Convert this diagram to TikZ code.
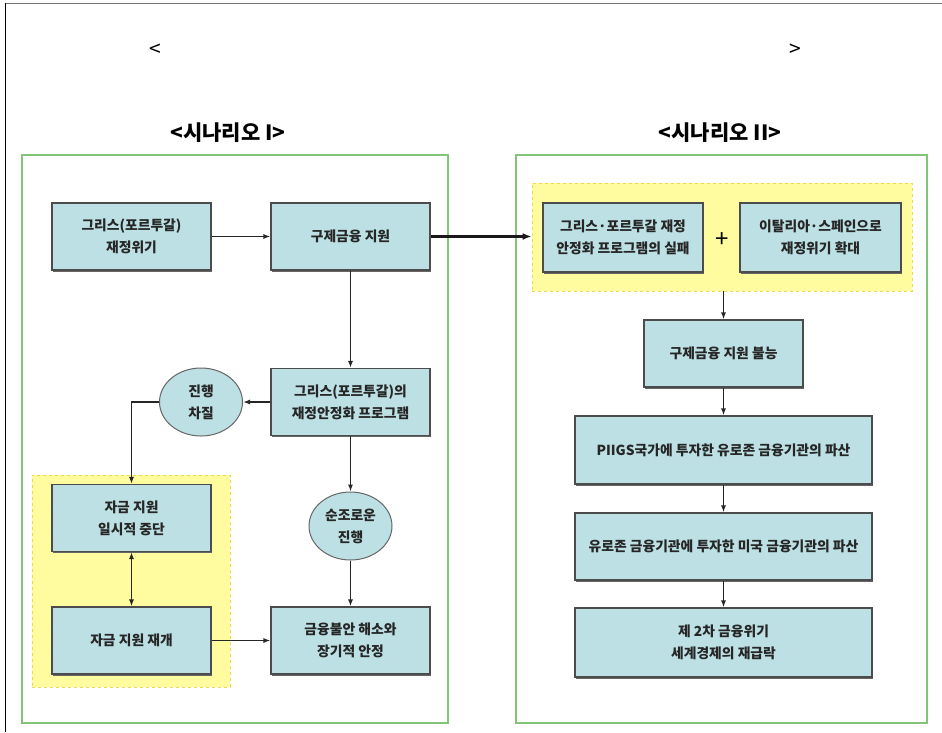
\documentclass[tikz,border=0pt]{standalone}
\usepackage{fontspec}
\setmainfont{Noto Sans CJK KR}
\usetikzlibrary{shapes.geometric,arrows.meta,shadows}
\definecolor{boxblue}{RGB}{188,224,228}
\definecolor{frameg}{RGB}{130,196,120}
\definecolor{hiyellow}{RGB}{255,252,160}
\definecolor{hiedge}{RGB}{240,215,80}
\begin{document}
\begin{tikzpicture}[x=1pt,y=-1pt,
    stepbox/.style={draw=black!70, line width=1.1pt, fill=boxblue, align=center,
      minimum width=159pt, minimum height=67pt, inner sep=2pt,
      font=\bfseries\fontsize{13.8}{22}\selectfont, text=black!85,
      drop shadow={shadow xshift=0.8pt, shadow yshift=-1.6pt, fill=black!60, opacity=1}},
    roundbox/.style={ellipse, draw=black!60, line width=1pt, fill=boxblue, align=center,
      minimum width=83pt, minimum height=68pt, inner sep=0pt,
      font=\bfseries\fontsize{13.8}{22}\selectfont, text=black!85},
    hibox/.style={draw=hiedge, dashed, line width=0.9pt, fill=hiyellow},
    panel/.style={draw=frameg, line width=1.5pt},
    link/.style={-{Latex[length=7pt,width=5pt]}, line width=1.3pt, black!85},
    biglink/.style={-{Latex[length=9pt,width=7pt]}, line width=2.6pt, black!90},
    title/.style={font=\bfseries\fontsize{21}{24}\selectfont}]
    \useasboundingbox (0,0) rectangle (942,732);

    % Draw the outer frame
    \draw[black!55, line width=1pt] (5,3) -- (942,3);
    \draw[black, line width=1pt] (5,3) -- (5,732);
    \node[font=\fontsize{21}{21}\selectfont] (lbr) at (155,50) {<};
    \node[font=\fontsize{21}{21}\selectfont] (rbr) at (795,50) {>};

    % Draw the two panels
    \draw[panel] (22,155) rectangle (448,723);
    \draw[panel] (516,155) rectangle (927,723);
    \node[title] (t1) at (228,133) {<시나리오 I>};
    \node[title] (t2) at (720,133) {<시나리오 II>};

    % Highlighted regions
    \node[hibox, minimum width=198pt, minimum height=212pt] (grp1) at (131,581) {};
    \node[hibox, minimum width=380pt, minimum height=108pt] (grp2) at (722,237) {};

    % Scenario I
    \node[stepbox] (A) at (131.5,236.5) {그리스(포르투갈)\\재정위기};
    \node[stepbox] (B) at (350.5,236.5) {구제금융 지원};
    \node[stepbox] (C) at (350.5,402) {그리스(포르투갈)의\\재정안정화 프로그램};
    \node[roundbox] (P) at (201,402) {진행\\차질};
    \node[roundbox] (Q) at (350.5,526) {순조로운\\진행};
    \node[stepbox] (D) at (131.5,518) {자금 지원\\일시적 중단};
    \node[stepbox] (E) at (131.5,640.5) {자금 지원 재개};
    \node[stepbox] (F) at (350.5,640.5) {금융불안 해소와\\장기적 안정};

    \draw[link] (A) -- (B);
    \draw[link] (B) -- (C);
    \draw[link] (C) -- (P);
    \draw[link] (P.west) -| (D.north);
    \draw[link] (C) -- (Q);
    \draw[link] (Q) -- (F);
    \draw[link, {Latex[length=7pt,width=5pt]}-{Latex[length=7pt,width=5pt]}] (D) -- (E);
    \draw[link] (E) -- (F);

    % Scenario II
    \node[stepbox, minimum width=160pt, minimum height=69pt] (G) at (623,237.5) {그리스·포르투갈 재정\\안정화 프로그램의 실패};
    \node[font=\fontsize{24}{24}\selectfont] (plus) at (722,240) {+};
    \node[stepbox, minimum width=161pt, minimum height=69pt] (H) at (820.5,237.5) {이탈리아·스페인으로\\재정위기 확대};
    \node[stepbox] (I) at (723.5,353.5) {구제금융 지원 불능};
    \node[stepbox, minimum width=297pt, minimum height=68pt] (J) at (723.5,450) {PIIGS국가에 투자한 유로존 금융기관의 파산};
    \node[stepbox, minimum width=297pt] (K) at (723.5,546.5) {유로존 금융기관에 투자한 미국 금융기관의 파산};
    \node[stepbox, minimum width=297pt, minimum height=69pt] (L) at (723.5,642.5) {제 2차 금융위기\\세계경제의 재급락};

    \draw[biglink] (B) -- (grp2.west |- B);
    \draw[link] (grp2.south -| I.north) -- (I.north);
    \draw[link] (I) -- (J);
    \draw[link] (J) -- (K);
    \draw[link] (K) -- (L);
\end{tikzpicture}
\end{document}
